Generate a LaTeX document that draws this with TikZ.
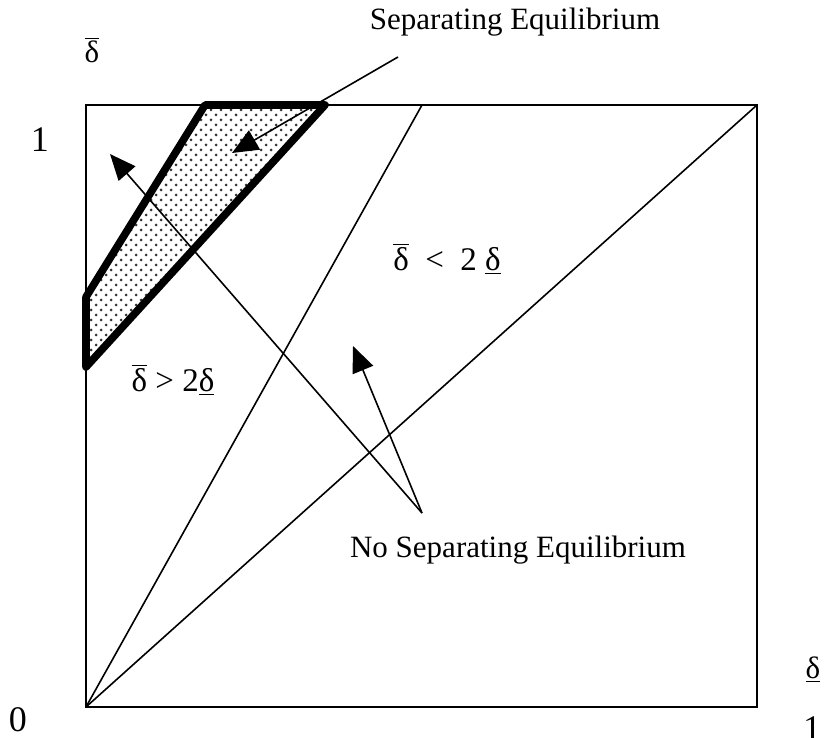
\documentclass[tikz,border=0pt]{standalone}
\usepackage{fontspec}
\setmainfont{Liberation Serif}
\usetikzlibrary{arrows.meta}
\usetikzlibrary{positioning}

\newcommand{\dover}{$\overline{\hbox{δ}}$}
\newcommand{\dunder}{\underline{δ}}

\begin{document}
\begin{tikzpicture}[x=0.5pt, y=-0.5pt,
    every node/.style={font=\fontsize{15.5}{18}\selectfont, inner sep=0pt},
    numlab/.style={font=\fontsize{18}{20}\selectfont},
    ineq/.style={font=\fontsize{16.5}{19}\selectfont},
    thinline/.style={line width=0.8pt},
    bound/.style={line width=3.8pt, line join=round},
    pointer/.style={line width=0.8pt, -{Triangle[length=13pt, width=11pt]}},
    dot/.style={fill=black!80},
  ]
  \useasboundingbox (0,0) rectangle (826,738);

  \coordinate (o) at (86,707);
  \coordinate (xe) at (757,707);
  \coordinate (ne) at (757,105);
  \coordinate (ye) at (86,105);
  \coordinate (half) at (422,105);

  \draw[thinline] (o) rectangle (ne);
  \draw[thinline] (o) -- (ne);
  \draw[thinline] (o) -- (half);

  % separating region
  \coordinate (p1) at (86,367);
  \coordinate (p2) at (86,297);
  \coordinate (p3) at (205,105);
  \coordinate (p4) at (325,105);
  \begin{scope}
    \clip (p1) -- (p2) -- (p3) -- (p4) -- cycle;
    \foreach \i in {0,...,54} {
      \foreach \j in {0,...,25} {
        \fill[dot] ({86+10*\j+5*mod(\i,2)},{105+5*\i}) circle (0.75pt);
      }
    }
  \end{scope}
  \draw[bound] (p1) -- (p2) -- (p3) -- (p4) -- cycle;

  % axis labels
  \node (ylab) at (92,50) {\dover};
  \node[numlab] (yone) at (40,140) {1};
  \node[numlab] (zero) at (18,720) {0};
  \node (xlab) at (813,670) {\dunder};
  \node[numlab, anchor=north] (xone) at (812,716) {1};

  \node[ineq] (lt) at (447,259) {\dover\ \ <\ \ 2\ \dunder};
  \node[ineq] (gt) at (173,380) {\dover\ > 2\dunder};

  \node (sep) at (515,22) {Separating Equilibrium};
  \coordinate (septail) at (398,57);
  \coordinate (septip) at (232,153);
  \draw[pointer] (septail) -- (septip);

  \node (nosep) at (518,550) {No Separating Equilibrium};
  \coordinate (nosepfoot) at (422,513);
  \coordinate (tipa) at (110,154);
  \coordinate (tipb) at (353,346);
  \draw[pointer] (nosepfoot) -- (tipa);
  \draw[pointer] (nosepfoot) -- (tipb);

\end{tikzpicture}
\end{document}
